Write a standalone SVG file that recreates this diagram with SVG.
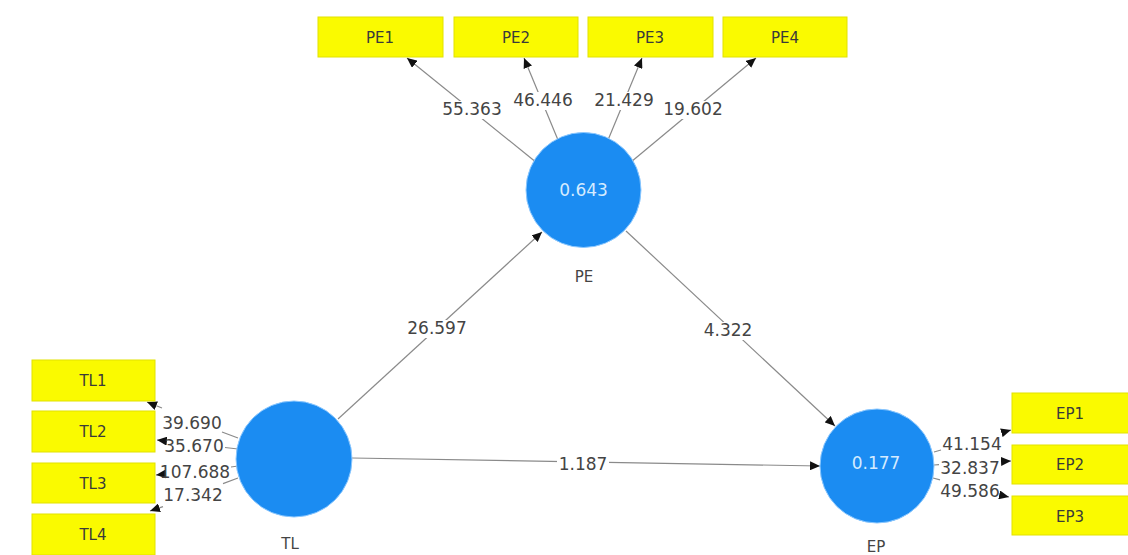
<svg xmlns="http://www.w3.org/2000/svg" width="1128" height="555" viewBox="0 0 1128 555">
<style>
.box{fill:#fafa00;stroke:#e2e200;stroke-width:1}
.bt{font-family:"DejaVu Sans",sans-serif;font-size:15px;fill:#3a3a3a;text-anchor:middle}
.lv{fill:#1b8cf2;stroke:#8cc8ff;stroke-width:1}
.lt{font-family:"DejaVu Sans",sans-serif;font-size:17px;fill:#d4ebff;text-anchor:middle}
.nm{font-family:"DejaVu Sans",sans-serif;font-size:15px;fill:#444;text-anchor:middle}
.ed{stroke:#8a8a8a;stroke-width:1.2;fill:none;marker-end:url(#ah)}
.lb{fill:#fff}
.el{font-family:"DejaVu Sans",sans-serif;font-size:17px;fill:#444;text-anchor:middle}
</style>
<defs>
<marker id="ah" markerUnits="userSpaceOnUse" markerWidth="11" markerHeight="9" refX="10" refY="4.5" orient="auto">
<path d="M0,0 L10,4.5 L0,9 z" fill="#111"/>
</marker>
</defs>
<rect width="1128" height="555" fill="#fff"/>

<g id="connectors">
<line class="ed" x1="537" y1="163" x2="407" y2="58"/>
<line class="ed" x1="558" y1="140" x2="524" y2="58"/>
<line class="ed" x1="608" y1="140" x2="642" y2="58"/>
<line class="ed" x1="631" y1="162" x2="756" y2="58"/>
<line class="ed" x1="338" y1="419" x2="542" y2="232"/>
<line class="ed" x1="626" y1="231" x2="835" y2="426"/>
<line class="ed" x1="352" y1="458" x2="820" y2="466"/>
<rect class="lb" x="440" y="101" width="64" height="18"/>
<rect class="lb" x="511" y="92" width="64" height="18"/>
<rect class="lb" x="592" y="92" width="64" height="18"/>
<rect class="lb" x="661" y="101" width="64" height="18"/>
<rect class="lb" x="405" y="320" width="64" height="18"/>
<rect class="lb" x="702" y="322" width="52" height="18"/>
<rect class="lb" x="557" y="456" width="52" height="18"/>
<path class="ed" d="M238,438 L222,432 M162,408 L147,402"/>
<path class="ed" d="M238,449 L225,447.5 M164,440.8 L157,440"/>
<path class="ed" d="M238,466 L231,467 M160,474.6 L156,475"/>
<path class="ed" d="M238,478 L223,483.6 M163,506.6 L150,511"/>
<path class="ed" d="M934,452 L941,450 M1003,432.3 L1011,430"/>
<path class="ed" d="M934,465 L939,464.7 M1001,461.5 L1011,461"/>
<path class="ed" d="M933,478 L940,479.8 M1001,495.3 L1009,497"/>
<text class="el" x="472" y="115">55.363</text>
<text class="el" x="543" y="106">46.446</text>
<text class="el" x="624" y="106">21.429</text>
<text class="el" x="693" y="115">19.602</text>
<text class="el" x="192" y="429">39.690</text>
<text class="el" x="194" y="452">35.670</text>
<text class="el" x="195" y="478">107.688</text>
<text class="el" x="193" y="501">17.342</text>
<text class="el" x="972" y="450">41.154</text>
<text class="el" x="970" y="474">32.837</text>
<text class="el" x="970" y="497">49.586</text>
<text class="el" x="437" y="334">26.597</text>
<text class="el" x="728" y="336">4.322</text>
<text class="el" x="583" y="470">1.187</text>
</g>

<g id="PE1"><rect class="box" x="318" y="17" width="125" height="40"/><text class="bt" x="380" y="43">PE1</text></g>
<g id="PE2"><rect class="box" x="454" y="17" width="124" height="40"/><text class="bt" x="516" y="43">PE2</text></g>
<g id="PE3"><rect class="box" x="588" y="17" width="125" height="40"/><text class="bt" x="650" y="43">PE3</text></g>
<g id="PE4"><rect class="box" x="723" y="17" width="124" height="40"/><text class="bt" x="785" y="43">PE4</text></g>

<g id="TL1"><rect class="box" x="32" y="360" width="123" height="41"/><text class="bt" x="93" y="386">TL1</text></g>
<g id="TL2"><rect class="box" x="32" y="411" width="123" height="41"/><text class="bt" x="93" y="437">TL2</text></g>
<g id="TL3"><rect class="box" x="32" y="463" width="123" height="40"/><text class="bt" x="93" y="489">TL3</text></g>
<g id="TL4"><rect class="box" x="32" y="514" width="123" height="41"/><text class="bt" x="93" y="540">TL4</text></g>

<g id="EP1"><rect class="box" x="1012" y="393" width="124" height="40"/><text class="bt" x="1070" y="419">EP1</text></g>
<g id="EP2"><rect class="box" x="1012" y="445" width="124" height="39"/><text class="bt" x="1070" y="470">EP2</text></g>
<g id="EP3"><rect class="box" x="1012" y="496" width="124" height="39"/><text class="bt" x="1070" y="522">EP3</text></g>

<g id="PE"><circle class="lv" cx="583.5" cy="190" r="57.5"/><text class="lt" x="583.5" y="196">0.643</text><text class="nm" x="584" y="282">PE</text></g>
<g id="TL"><circle class="lv" cx="294" cy="459" r="58"/><text class="nm" x="290" y="549">TL</text></g>
<g id="EP"><circle class="lv" cx="877" cy="466" r="57"/><text class="lt" x="876" y="469">0.177</text><text class="nm" x="876" y="552">EP</text></g>
</svg>
